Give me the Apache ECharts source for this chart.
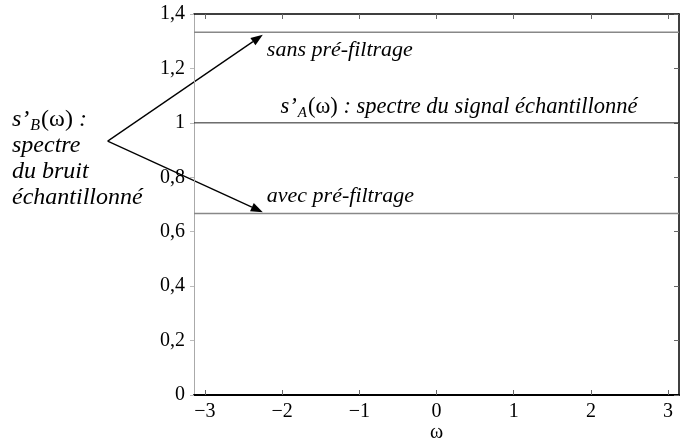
<!DOCTYPE html>
<html>
<head>
<meta charset="utf-8">
<script src="https://cdn.jsdelivr.net/npm/echarts@6/dist/echarts.min.js"></script>
<style>html,body{margin:0;padding:0;background:#fff}#c{width:689px;height:441px}</style>
</head>
<body>
<div id="c"></div>
<script>
// ---- data ----
var xRange = [-Math.PI, Math.PI];
var xTicks = [-3, -2, -1, 0, 1, 2, 3];
var yTicks = [0, 0.2, 0.4, 0.6, 0.8, 1, 1.2, 1.4];
var levelSans = 4 / 3;     // sans pré-filtrage
var levelSignal = 1;       // spectre du signal
var levelAvec = 2 / 3;     // avec pré-filtrage
var arrowTipX = -2.25;
var arrowApex = [-4.26, 0.933];

var serif = '"Liberation Serif","DejaVu Serif",serif';
var chart = echarts.init(document.getElementById('c'));

function flat(v) { return [[xRange[0], v], [xRange[1], v]]; }

var option = {
  animation: false,
  grid: { left: 194, right: 10, top: 14, bottom: 46, outerBoundsMode: 'none', containLabel: false },
  xAxis: [{
    type: 'value', min: xRange[0], max: xRange[1], position: 'bottom',
    name: 'ω', nameLocation: 'middle', nameGap: 28, nameMoveOverlap: false,
    nameTextStyle: { fontFamily: serif, fontSize: 20, color: '#000' },
    axisLine: { show: true, onZero: false, lineStyle: { color: '#000', width: 2 } },
    axisTick: { show: true, inside: true, length: 5, customValues: xTicks, lineStyle: { color: '#666' } },
    axisLabel: { customValues: xTicks, margin: 7, fontFamily: serif, fontSize: 20, color: '#000',
      formatter: function (v) { return (v < 0 ? '\u2212' + (-v) : '' + v); } },
    splitLine: { show: false }
  }, {
    type: 'value', min: xRange[0], max: xRange[1], position: 'top',
    axisLine: { show: true, onZero: false, lineStyle: { color: '#000', width: 1.5 } },
    axisTick: { show: true, inside: true, length: 5, customValues: xTicks, lineStyle: { color: '#666' } },
    axisLabel: { show: false }, splitLine: { show: false }
  }],
  yAxis: [{
    type: 'value', min: 0, max: 1.4, position: 'left',
    axisLine: { show: true, onZero: false, lineStyle: { color: '#aaa', width: 1 } },
    axisTick: { show: true, inside: false, length: 4, customValues: yTicks, lineStyle: { color: '#bbb' } },
    axisLabel: { customValues: yTicks, margin: 9, fontFamily: serif, fontSize: 20, color: '#000',
      formatter: function (v) { return String(Math.round(v * 10) / 10).replace('.', ','); } },
    splitLine: { show: false }
  }, {
    type: 'value', min: 0, max: 1.4, position: 'right',
    axisLine: { show: true, onZero: false, lineStyle: { color: '#000', width: 1.5 } },
    axisTick: { show: true, inside: true, length: 5, customValues: yTicks, lineStyle: { color: '#666' } },
    axisLabel: { show: false }, splitLine: { show: false }
  }],
  series: [
    { type: 'line', data: flat(levelSans), symbol: 'none', lineStyle: { color: '#888', width: 1.5 } },
    { type: 'line', data: flat(levelSignal), symbol: 'none', lineStyle: { color: '#222', width: 1 } },
    { type: 'line', data: flat(levelAvec), symbol: 'none', lineStyle: { color: '#888', width: 1.5 } }
  ]
};
chart.setOption(option);

function px(p) { return chart.convertToPixel({ xAxisIndex: 0, yAxisIndex: 0 }, p); }

function arrow(from, to) {
  var a = px(from), b = px(to);
  var ang = Math.atan2(b[1] - a[1], b[0] - a[0]);
  var L = 12, W = 4.5;
  var bx = b[0] - L * Math.cos(ang), by = b[1] - L * Math.sin(ang);
  var nx = -Math.sin(ang), ny = Math.cos(ang);
  return [
    { type: 'line', shape: { x1: a[0], y1: a[1], x2: bx, y2: by }, style: { stroke: '#000', lineWidth: 1.3 } },
    { type: 'polygon', shape: { points: [[b[0], b[1]], [bx + nx * W, by + ny * W], [bx - nx * W, by - ny * W]] }, style: { fill: '#000' } }
  ];
}

var upTip = [arrowTipX, levelSans - 0.01];
var dnTip = [arrowTipX, levelAvec + 0.005];
var els = [].concat(arrow(arrowApex, upTip), arrow(arrowApex, dnTip));

var FS = 22;
var it = { fontFamily: serif, fontSize: FS, fontStyle: 'italic', fill: '#000' };
function txt(x, y, text, rich) {
  return { type: 'text', x: x, y: y, style: Object.assign({}, it, { text: text, rich: rich, verticalAlign: 'middle' }) };
}
function richFor(fs) {
  return {
    i: { fontFamily: serif, fontSize: fs, fontStyle: 'italic' },
    sub: { fontFamily: serif, fontSize: Math.round(fs * 0.68), fontStyle: 'italic', padding: [12, 1, 0, 1] },
    n: { fontFamily: serif, fontSize: fs, fontStyle: 'normal' }
  };
}
var pSans = px([arrowTipX, levelSans]);
var pAvec = px([arrowTipX, levelAvec]);
var pSig = px([-2.02, levelSignal]);
els.push(txt(pSans[0] + 4, pSans[1] + 18, 'sans pré-filtrage'));
els.push(txt(pAvec[0] + 4, pAvec[1] - 17, 'avec pré-filtrage'));
els.push(txt(pSig[0], pSig[1] - 16, '{i|s’}{sub|A}{n|(ω)}{i| : spectre du signal échantillonné}', richFor(22.5)));
els.push({ type: 'text', x: 12, y: 107, style: Object.assign({}, it, { fontSize: 24,
  text: '{i|s’}{sub|B}{n|(ω)}{i| :}\n{i|spectre}\n{i|du bruit}\n{i|échantillonné}', rich: richFor(24), lineHeight: 26, verticalAlign: 'top' }) });

chart.setOption({ graphic: { elements: els } });
</script>
</body>
</html>
